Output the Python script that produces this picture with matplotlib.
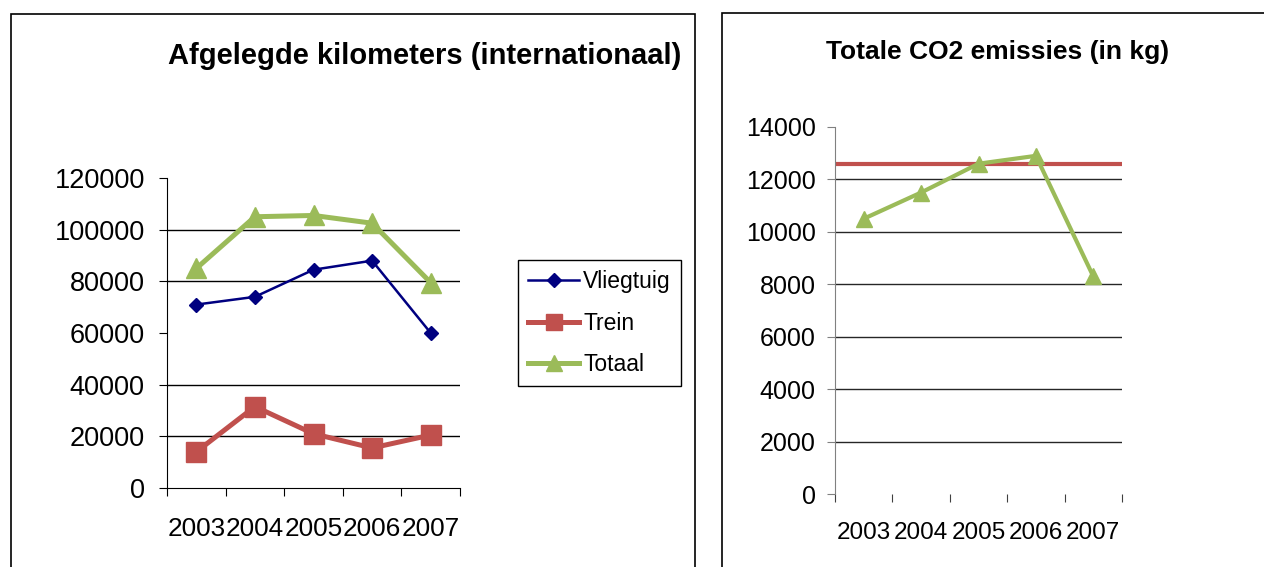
import matplotlib.pyplot as plt
from matplotlib.patches import Rectangle

plt.rcParams['font.family'] = ['Liberation Sans', 'DejaVu Sans']

# data
jaren = ["2003", "2004", "2005", "2006", "2007"]
vliegtuig = [71000, 74000, 84500, 88000, 60000]
trein = [14000, 31500, 21000, 15500, 20500]
totaal = [85000, 105000, 105500, 102500, 79500]
km_ticks = [0, 20000, 40000, 60000, 80000, 100000, 120000]
km_grid = [20000, 40000, 80000, 100000]

co2 = [10500, 11500, 12600, 12900, 8300]
co2_grens = 12600
co2_ticks = [0, 2000, 4000, 6000, 8000, 10000, 12000, 14000]
co2_grid = [2000, 4000, 6000, 8000, 10000, 12000]

W, H = 1264, 567
fig = plt.figure(figsize=(W / 100, H / 100), dpi=100)

def box(x0, y0, x1, y1):
    # pixel box (top-left origin) -> figure fraction
    return [x0 / W, 1 - y1 / H, (x1 - x0) / W, (y1 - y0) / H]

# panel frames
fig.add_artist(Rectangle((11 / W, -0.05), (695 - 11) / W, 1.05 - 14 / H,
                         transform=fig.transFigure, fill=False, ec="black", lw=1.2))
fig.add_artist(Rectangle((722 / W, -0.05), 0.5, 1.05 - 13 / H,
                         transform=fig.transFigure, fill=False, ec="black", lw=1.2))

x = list(range(len(jaren)))

# ---- left chart
ax1 = fig.add_axes(box(167, 178, 460, 488))
for g in km_grid:
    ax1.axhline(g, color="black", lw=1, zorder=1)
ax1.plot(x, vliegtuig, color="#000080", lw=1.8, marker="D", ms=7, label="Vliegtuig", zorder=3)
ax1.plot(x, trein, color="#C0504D", lw=3.6, marker="s", ms=15, label="Trein", zorder=3)
ax1.plot(x, totaal, color="#9BBB59", lw=3.6, marker="^", ms=14, label="Totaal", zorder=3)
ax1.set_xlim(-0.5, 4.5)
ax1.set_ylim(0, 120000)
ax1.set_yticks(km_ticks)
ax1.set_yticklabels([str(t) for t in km_ticks], fontsize=19.5)
ax1.set_xticks([i - 0.5 for i in range(len(jaren) + 1)])
ax1.set_xticklabels([])
ax1.set_xticks(x, minor=True)
ax1.set_xticklabels(jaren, minor=True, fontsize=18.8)
ax1.tick_params(axis="x", which="minor", length=0, pad=21)
ax1.tick_params(axis="x", which="major", length=6, direction="out", color="black")
ax1.tick_params(axis="y", length=6, direction="out", pad=10)
for s in ["top", "right"]:
    ax1.spines[s].set_visible(False)
for s in ["left", "bottom"]:
    ax1.spines[s].set_color("black")
fig.text(425 / W, 1 - 56 / H, "Afgelegde kilometers (internationaal)",
         ha="center", va="center", fontsize=21, fontweight="bold")

leg = ax1.legend(loc="upper left", bbox_to_anchor=(518 / W, 1 - 260 / H),
                 bbox_transform=fig.transFigure, borderaxespad=0, fontsize=16.5,
                 frameon=True, fancybox=False, edgecolor="black", framealpha=1,
                 handlelength=2.2, labelspacing=0.8, handletextpad=0.2,
                 borderpad=0.45)
leg.get_frame().set_linewidth(1.0)
for h, ms in zip(leg.legend_handles, [7, 11, 11]):
    h.set_markersize(ms)

# ---- right chart
ax2 = fig.add_axes(box(835, 127, 1122, 494))
for g in co2_grid:
    ax2.axhline(g, color="#262626", lw=1, zorder=1)
ax2.axhline(co2_grens, color="#C0504D", lw=3, zorder=2)
ax2.plot(x, co2, color="#9BBB59", lw=3, marker="^", ms=12, zorder=3)
ax2.set_xlim(-0.5, 4.5)
ax2.set_ylim(0, 14000)
ax2.set_yticks(co2_ticks)
ax2.set_yticklabels([str(t) for t in co2_ticks], fontsize=18)
ax2.set_xticks([i - 0.5 for i in range(len(jaren) + 1)])
ax2.set_xticklabels([])
ax2.set_xticks(x, minor=True)
ax2.set_xticklabels(jaren, minor=True, fontsize=17.5)
ax2.tick_params(axis="x", which="minor", length=0, pad=20)
ax2.tick_params(axis="x", which="major", length=6, direction="out", color="#404040")
ax2.tick_params(axis="y", length=6, direction="out", color="#808080", pad=8)
for s in ["top", "right", "bottom"]:
    ax2.spines[s].set_visible(False)
ax2.spines["left"].set_color("#808080")
ax2.spines["left"].set_bounds(0, 14000)
fig.text(998 / W, 1 - 52 / H, "Totale CO2 emissies (in kg)",
         ha="center", va="center", fontsize=19, fontweight="bold")

fig.savefig("out.png", dpi=100)
